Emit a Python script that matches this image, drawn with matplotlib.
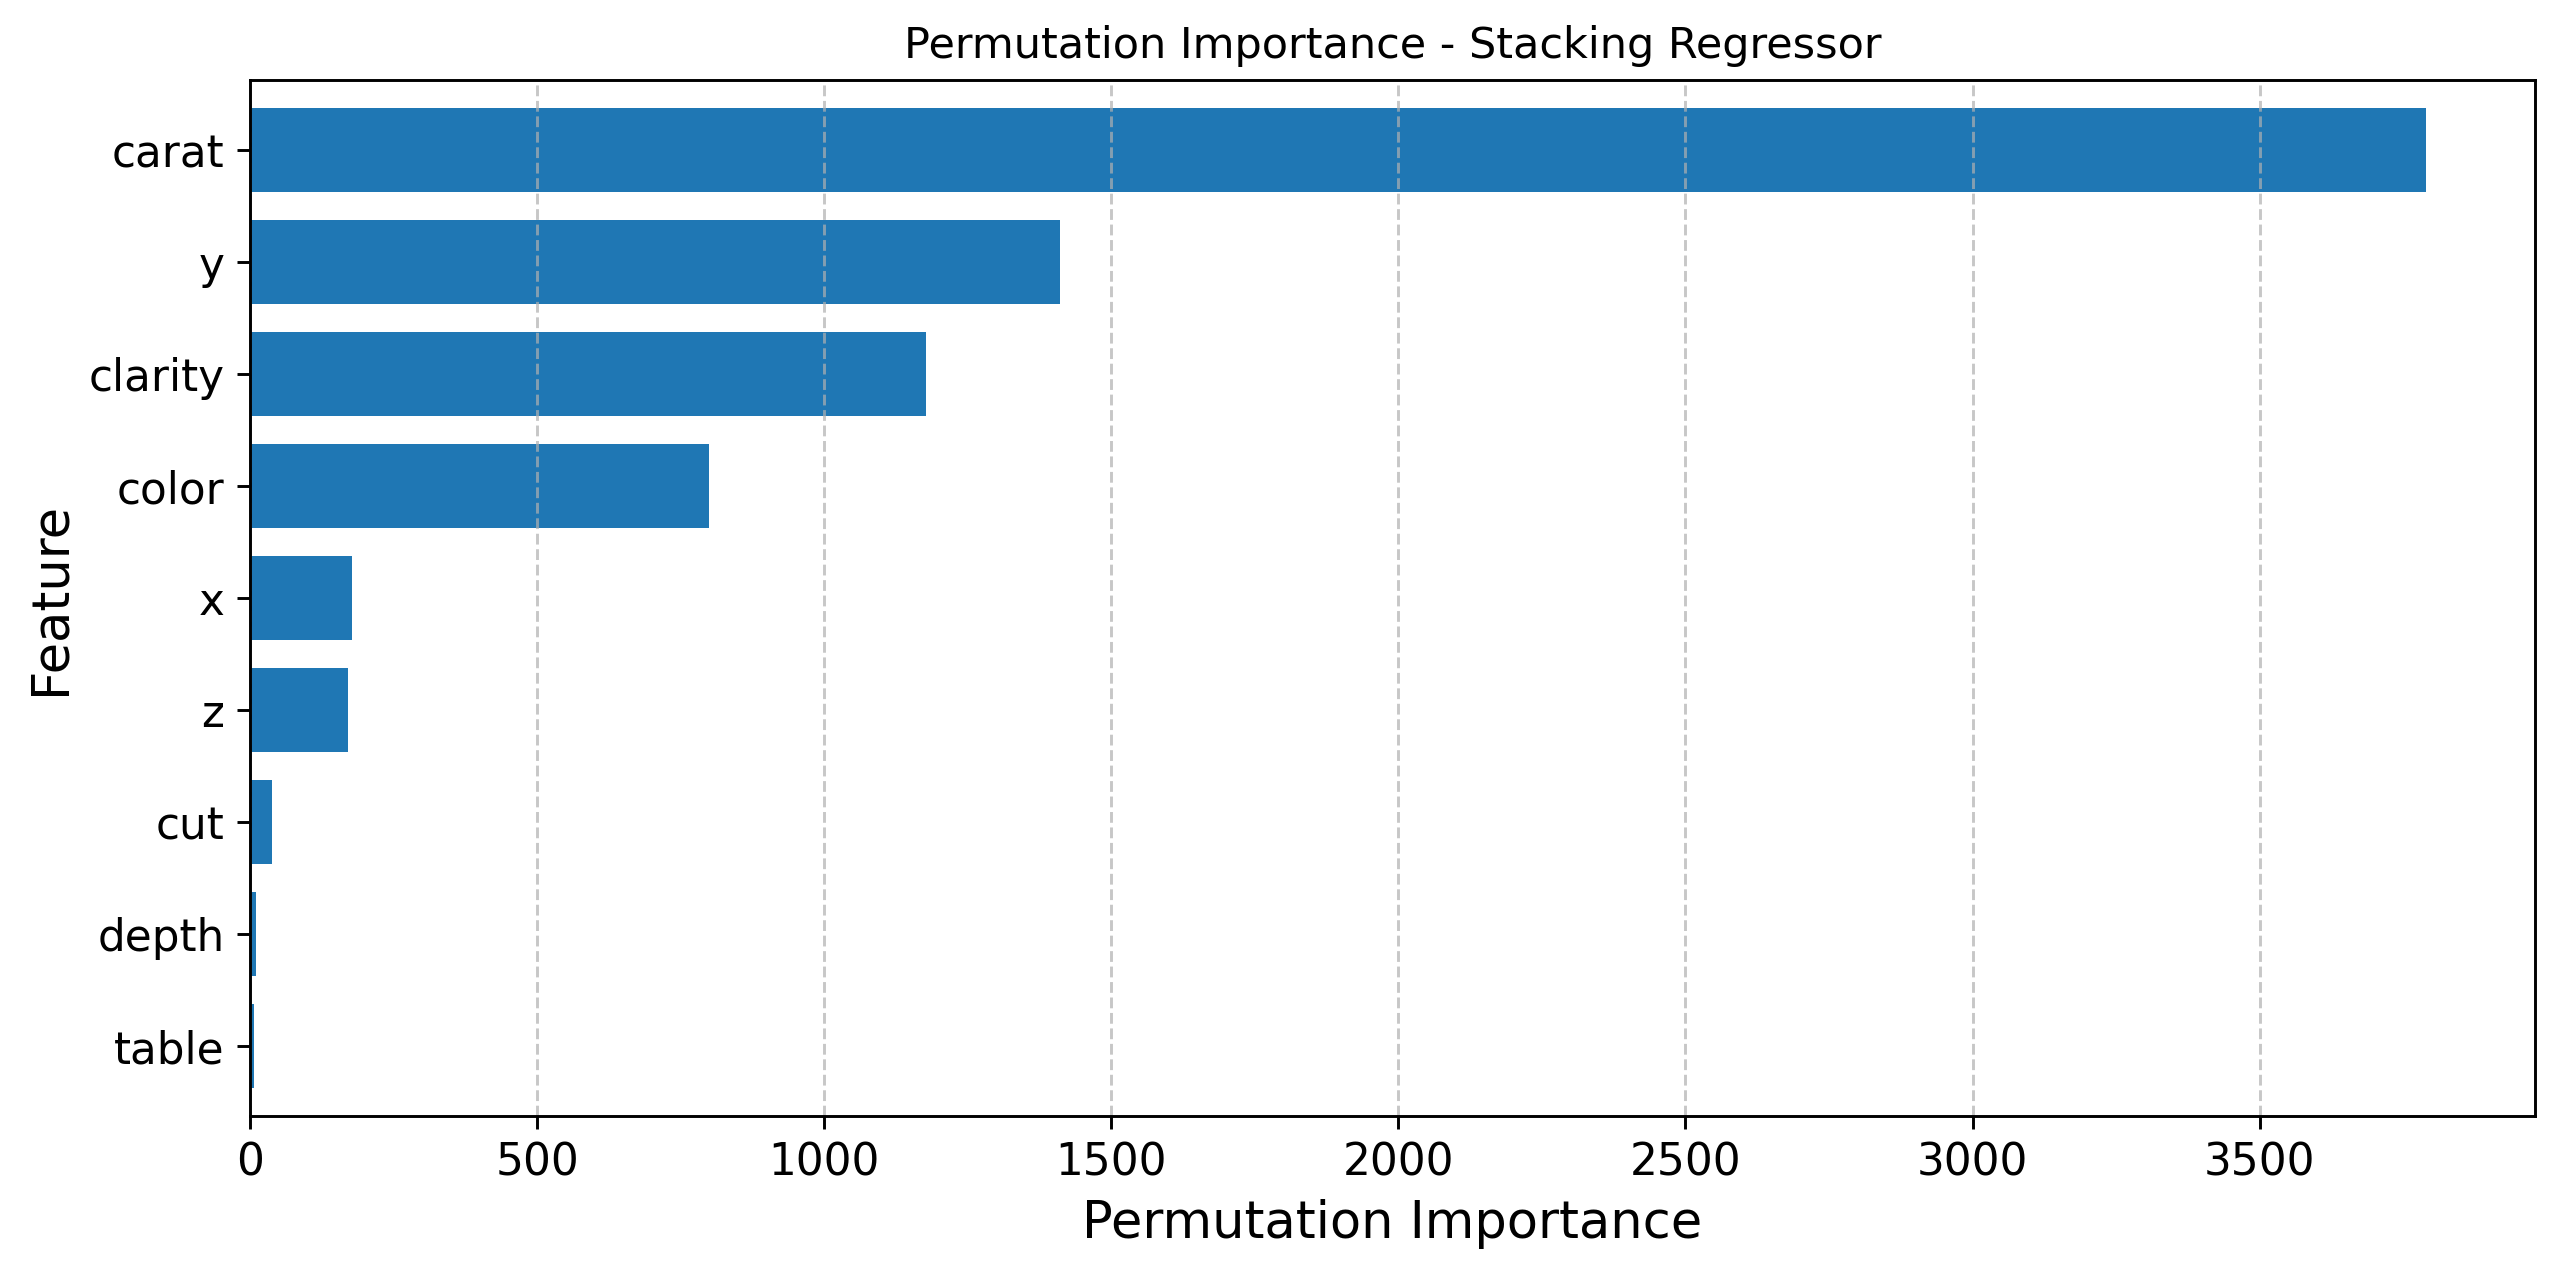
import matplotlib
matplotlib.use("Agg")
import matplotlib.pyplot as plt

features = ["carat", "y", "clarity", "color", "x", "z", "cut", "depth", "table"]
importance = [3790, 1410, 1178, 800, 178, 171, 38, 11, 7]
title = "Permutation Importance - Stacking Regressor"
xlabel = "Permutation Importance"
ylabel = "Feature"

s = 1.05
fig = plt.figure(figsize=(10.24, 5.088), dpi=250)
ax = fig.add_axes([250 / 2560, 1 - 1116 / 1272, (2535 - 250) / 2560, (1116 - 80) / 1272])

feats_rev = features[::-1]
vals_rev = importance[::-1]
pos = list(range(len(feats_rev)))
ax.barh(pos, vals_rev, height=0.75, color="#1f77b4")
ax.set_yticks(pos)
ax.set_yticklabels(feats_rev)
ax.set_ylim(-0.625, len(pos) - 1 + 0.625)
ax.set_xlim(0, max(importance) * 1.05)
ax.set_xticks([0, 500, 1000, 1500, 2000, 2500, 3000, 3500])
ax.tick_params(axis="both", labelsize=12 * s, length=3.5 * s, width=0.8 * s, pad=3.5 * s)
for sp in ax.spines.values():
    sp.set_linewidth(0.8 * s)
ax.grid(axis="x", linestyle="--", alpha=0.7, linewidth=0.8 * s)
ax.set_xlabel(xlabel, fontsize=14 * s, labelpad=4 * s)
ax.set_ylabel(ylabel, fontsize=14 * s, labelpad=3.5 * s)
ax.set_title(title, fontsize=12.4, pad=6 * s)

fig.savefig("out.png", dpi=250)
